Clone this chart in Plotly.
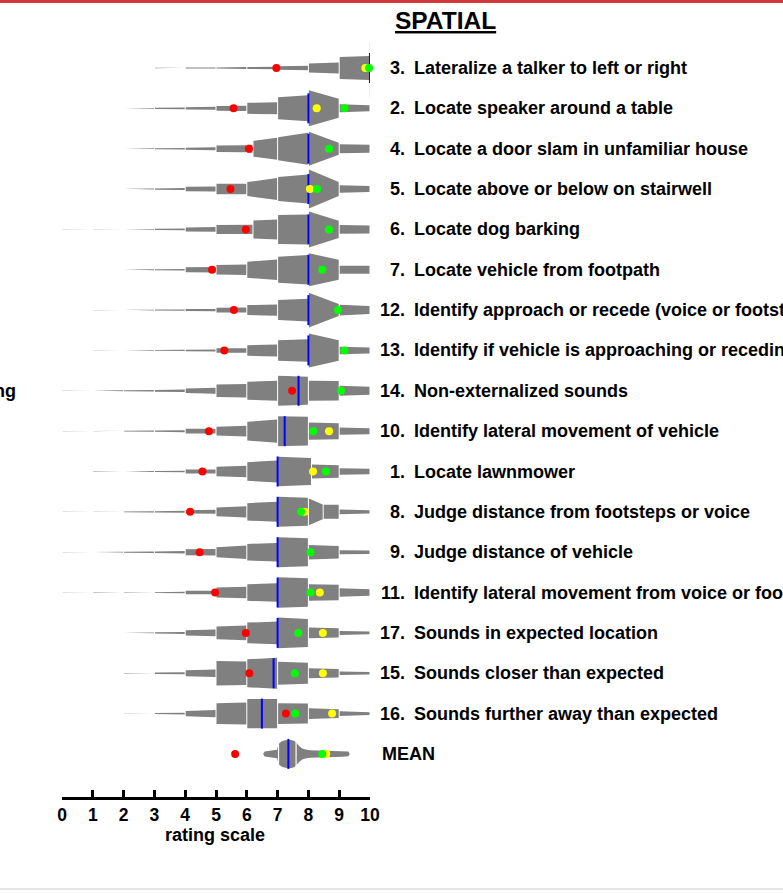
import numpy as np
import plotly.graph_objects as go

# ---------------- data ----------------
row_num = ["3.", "2.", "4.", "5.", "6.", "7.", "12.", "13.", "14.", "10.", "1.", "8.", "9.",
           "11.", "17.", "15.", "16."]
row_text = ["Lateralize a talker to left or right",
            "Locate speaker around a table",
            "Locate a door slam in unfamiliar house",
            "Locate above or below on stairwell",
            "Locate dog barking",
            "Locate vehicle from footpath",
            "Identify approach or recede (voice or footsteps)",
            "Identify if vehicle is approaching or receding",
            "Non-externalized sounds",
            "Identify lateral movement of vehicle",
            "Locate lawnmower",
            "Judge distance from footsteps or voice",
            "Judge distance of vehicle",
            "Identify lateral movement from voice or footsteps",
            "Sounds in expected location",
            "Sounds closer than expected",
            "Sounds further away than expected"]

median = [10, 8, 8, 8, 8, 8, 8, 8, 7.68, 7.23, 7, 7, 7, 7, 7, 6.87, 6.49]
red = [6.96, 5.57, 6.07, 5.47, 5.97, 4.87, 5.58, 5.27, 7.47, 4.77, 4.56, 4.16, 4.47, 4.97,
       5.97, 6.08, 7.27]
yellow = [9.85, 8.27, None, 8.05, None, None, None, None, None, 8.67, 8.15, 7.88, None,
          8.37, 8.47, 8.47, 8.77]
green = [9.97, 9.17, 8.67, 8.28, 8.67, 8.45, 8.96, 9.17, 9.06, 8.16, 8.57, 7.76, 8.07,
         8.07, 7.67, 7.56, 7.57]

# stepped distribution profile per item: bin edges, density at left / right end of each bin
edges = [
    [3, 4, 5, 6, 7, 8, 9, 10],
    [2, 3, 4, 5, 6, 7, 8, 9, 10],
    [2, 3, 4, 5, 6, 6.2, 7, 8, 9, 10],
    [2, 3, 4, 5, 6, 7, 8, 9, 10],
    [0, 1, 2, 3, 4, 5, 6.2, 7, 8, 9, 10],
    [2, 3, 4, 5, 6, 7, 8, 9, 10],
    [1, 2, 3, 4, 5, 6, 7, 8, 9, 10],
    [1, 2, 3, 4, 5, 6, 7, 8, 9, 10],
    [0, 1, 2, 3, 4, 5, 6, 7, 8, 9, 10],
    [0, 1, 2, 3, 4, 5, 6, 7, 8, 9, 10],
    [1, 2, 3, 4, 5, 6, 7, 8.1, 9, 10],
    [0, 1, 2, 3, 4, 5, 6, 7, 8, 8.48, 9, 10],
    [0, 1, 2, 3, 4, 5, 6, 7, 8, 9, 10],
    [0, 1, 2, 3, 4, 5, 6, 7, 8, 9, 10],
    [2, 3, 4, 5, 6, 7, 8, 9, 10],
    [2, 3, 4, 5, 6, 7, 8, 9, 10],
    [2, 3, 4, 5, 6, 7, 8, 9, 10],
]
dens_left = [
    [0.2, 0.4, 0.6, 0.9, 1.7, 4.5, 11],
    [0.25, 0.6, 1.2, 2.3, 5.5, 11, 18, 4],
    [0.25, 0.5, 1.0, 3.3, 4, 8, 11.5, 17, 4.5],
    [0.3, 0.6, 2.3, 5.3, 7, 12, 19.5, 3.7],
    [0.15, 0.2, 0.35, 0.6, 2.0, 4.5, 9, 14.5, 18, 4.3],
    [0.3, 0.5, 2.5, 4.7, 8, 13, 16.5, 4],
    [0.15, 0.25, 0.5, 1.0, 2.3, 5, 10, 17.3, 5.3],
    [0.15, 0.25, 0.4, 0.7, 2.2, 5.3, 10.3, 17, 3.7],
    [0.15, 0.3, 0.5, 0.9, 2.3, 6.3, 9, 15, 10, 5],
    [0.15, 0.2, 0.4, 0.7, 2.3, 4.3, 9.3, 15, 8.7, 3.7],
    [0.15, 0.3, 0.5, 2, 4.7, 9.3, 14.7, 7, 3.3],
    [0.15, 0.2, 0.4, 0.7, 1.7, 4.3, 8.7, 15, 13.3, 7, 2.3],
    [0.15, 0.25, 0.5, 0.8, 3, 5, 8.3, 15, 7.3, 2],
    [0.15, 0.2, 0.25, 0.4, 1.7, 5, 8.3, 15.3, 8.3, 4.3],
    [0.25, 0.6, 2.7, 6.3, 10.3, 15.3, 5.3, 2],
    [0.25, 0.7, 3, 12.3, 14, 11.5, 5, 1.7],
    [0.2, 0.5, 2.7, 10.3, 14.7, 10.3, 5.3, 2.3],
]
dens_right = [
    [0.3, 0.6, 0.9, 1.3, 2.3, 5.5, 12],
    [0.4, 0.9, 1.5, 2.7, 6, 13, 9.5, 3],
    [0.4, 0.8, 1.5, 3.5, 4, 11, 16, 6, 4],
    [0.5, 1.0, 2.5, 5.3, 11, 14.5, 7, 3],
    [0.2, 0.25, 0.45, 0.8, 2.3, 4.7, 10, 15, 8.7, 4],
    [0.4, 0.7, 2.7, 5.3, 10.3, 14.7, 10, 4],
    [0.2, 0.4, 0.7, 1.2, 2.5, 5.7, 11.3, 6, 4],
    [0.2, 0.4, 0.6, 1.0, 2.3, 6, 11.3, 10.3, 3],
    [0.2, 0.5, 0.8, 1.3, 3, 6.7, 10, 14, 9.7, 4],
    [0.2, 0.3, 0.6, 1.0, 2.3, 5.3, 11.7, 14.3, 8, 3],
    [0.2, 0.4, 0.8, 2, 5.7, 11, 13.5, 6.3, 2.7],
    [0.2, 0.3, 0.6, 1.0, 2, 5.7, 10, 14, 7.3, 7, 1.7],
    [0.2, 0.4, 0.7, 1.2, 3.3, 6.7, 9.3, 14, 6.3, 1.7],
    [0.2, 0.25, 0.3, 0.8, 1.7, 5.7, 9.3, 14.3, 7.7, 3.3],
    [0.4, 1.0, 3.3, 7.3, 11.3, 14, 4.7, 1.3],
    [0.35, 1.0, 3.7, 11.7, 15.5, 10.5, 4.3, 1.3],
    [0.3, 0.8, 3.7, 11, 14.7, 10, 4.3, 1.3],
]

# MEAN row
mean_median = 7.35
mean_red = 5.62
mean_yellow = 8.58
mean_green = 8.45
mean_x = [6.53, 6.58, 6.75, 6.98, 7.0, 7.06, 7.15, 7.3, 7.45, 7.55, 7.62, 7.7, 7.8, 7.9,
          8.05, 8.3, 8.7, 9.1, 9.3, 9.34]
mean_dens = [0, 2.5, 3.2, 4.2, 6.5, 11, 13, 14, 14, 13, 11, 8, 5.5, 4.5, 3.8, 3.4, 3.0,
             2.7, 2.4, 0]
mean_breaks = [7.03, 7.6]

ticks = list(range(0, 11))

# ---------------- drawing ----------------
ROW_PX = 40.35              # pixel spacing between rows
S = 1.0 / ROW_PX            # density units -> row units
GAP = 0.5 / 30.83           # half white gap between bins
MED_HALF = 15 * S
FONT = "Liberation Sans, Arial, Helvetica, sans-serif"
GRAY = "#808080"
LABEL_SIZE = 18

n = len(row_num)
fig = go.Figure()

px_, py_ = [], []
for k in range(n):
    yc = -k
    e = edges[k]
    for j in range(len(e) - 1):
        x0, x1 = e[j] + GAP, e[j + 1] - GAP
        hl, hr = dens_left[k][j] * S, dens_right[k][j] * S
        px_ += [x0, x1, x1, x0, x0, None]
        py_ += [yc + hl, yc + hr, yc - hr, yc - hl, yc + hl, None]

# mean violin
ym = -n
mx = list(mean_x) + list(reversed(mean_x))
my = [ym + d * S for d in mean_dens] + [ym - d * S for d in reversed(mean_dens)]
px_ += mx + [mx[0], None]
py_ += my + [my[0], None]

fig.add_trace(go.Scatter(x=px_, y=py_, mode="lines", fill="toself", fillcolor=GRAY,
                         line=dict(width=0, color=GRAY), hoverinfo="skip",
                         showlegend=False))

# white separators in mean violin
sx, sy = [], []
for b in mean_breaks:
    h = float(np.interp(b, mean_x, mean_dens)) * S + 0.02
    sx += [b, b, None]
    sy += [ym - h, ym + h, None]
fig.add_trace(go.Scatter(x=sx, y=sy, mode="lines", line=dict(color="white", width=1.2),
                         hoverinfo="skip", showlegend=False))

# medians
mdx, mdy = [], []
for k, m in enumerate(list(median) + [mean_median]):
    mdx += [m, m, None]
    mdy += [-k - MED_HALF, -k + MED_HALF, None]
fig.add_trace(go.Scatter(x=mdx, y=mdy, mode="lines", line=dict(color="#0000ff", width=2),
                         hoverinfo="skip", showlegend=False, cliponaxis=False))

ys_all = [-k for k in range(n + 1)]
for vals, col in [(list(red) + [mean_red], "#ff0000"),
                  (list(yellow) + [mean_yellow], "#ffff00"),
                  (list(green) + [mean_green], "#00ff00")]:
    fig.add_trace(go.Scatter(x=vals, y=ys_all, mode="markers",
                             marker=dict(color=col, size=8, line=dict(width=0)),
                             showlegend=False, cliponaxis=False, hoverinfo="skip"))

# ---------------- layout ----------------
L, R, T, B = 62, 413, 40, 96
W, H = 783, 893
pw = W - L - R
ph = H - T - B


def xpaper(p):
    return (p - L) / pw


def ypaper(p):
    return (H - B - p) / ph


ann = []
for k in range(n):
    ann.append(dict(x=xpaper(406.5), y=-k, xref="paper", yref="y", text=row_num[k],
                    showarrow=False, xanchor="right", yanchor="middle",
                    font=dict(family=FONT, size=LABEL_SIZE, color="black", weight="bold")))
    ann.append(dict(x=xpaper(412), y=-k, xref="paper", yref="y", text=row_text[k],
                    showarrow=False, xanchor="left", yanchor="middle",
                    font=dict(family=FONT, size=LABEL_SIZE, color="black", weight="bold")))
ann.append(dict(x=xpaper(380), y=-n, xref="paper", yref="y", text="MEAN",
                showarrow=False, xanchor="left", yanchor="middle",
                font=dict(family=FONT, size=LABEL_SIZE, color="black", weight="bold")))
ann.append(dict(x=xpaper(445), y=ypaper(21), xref="paper", yref="paper", text="SPATIAL",
                showarrow=False, xanchor="center", yanchor="middle",
                font=dict(family=FONT, size=24.5, color="black", weight="bold",
                          lineposition="under")))
ann.append(dict(x=xpaper(18), y=ypaper(391), xref="paper", yref="paper", text="ng",
                showarrow=False, xanchor="right", yanchor="middle",
                font=dict(family=FONT, size=LABEL_SIZE, color="black", weight="bold")))
ann.append(dict(x=xpaper(215), y=ypaper(835), xref="paper", yref="paper",
                text="rating scale", showarrow=False, xanchor="center", yanchor="middle",
                font=dict(family=FONT, size=18, color="black", weight="bold")))

shapes = [
    dict(type="rect", xref="paper", yref="paper", x0=xpaper(0), x1=xpaper(W),
         y0=ypaper(3), y1=ypaper(0), fillcolor="#d23a3a", line=dict(width=0)),
    dict(type="line", xref="paper", yref="paper", x0=xpaper(0), x1=xpaper(W),
         y0=ypaper(889), y1=ypaper(889), line=dict(color="#e6e6e6", width=2)),
    dict(type="line", xref="x", yref="y", x0=10, x1=10, y0=-0.72, y1=0.64,
         line=dict(color="#dedede", width=1), layer="below"),
]

fig.update_layout(
    width=W, height=H,
    margin=dict(l=L, r=R, t=T, b=B, pad=0),
    paper_bgcolor="white", plot_bgcolor="white",
    annotations=ann, shapes=shapes,
    xaxis=dict(range=[0, 10], tickvals=ticks, ticktext=[str(t) for t in ticks],
               showgrid=False, zeroline=False, showline=True, linecolor="black",
               linewidth=3, ticks="inside", ticklen=7, tickwidth=2.5, tickcolor="black",
               tickfont=dict(family=FONT, size=17.5, color="black", weight="bold"),
               fixedrange=True),
    yaxis=dict(range=[-18.067, 0.694], visible=False, showgrid=False, zeroline=False,
               fixedrange=True),
    showlegend=False,
)

fig.write_html("out.html", config={"displayModeBar": False})
